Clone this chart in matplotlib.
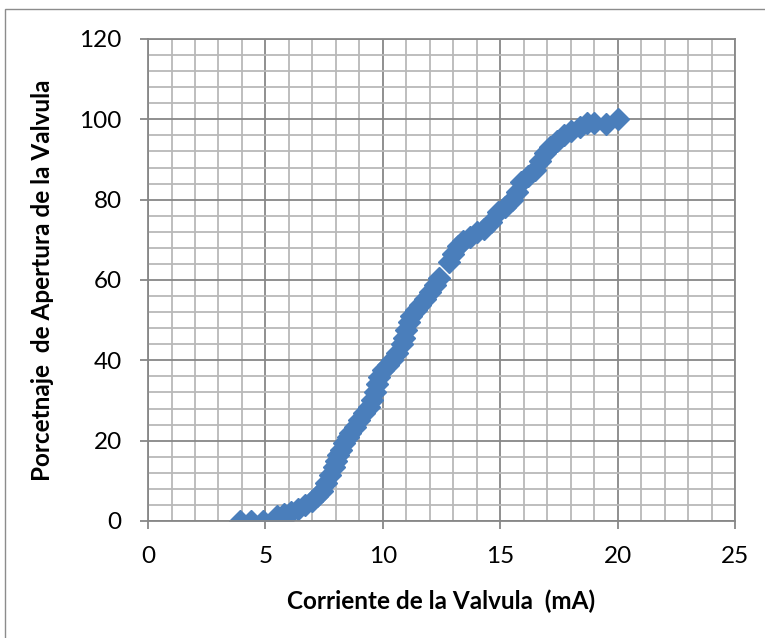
import numpy as np
import matplotlib
matplotlib.use('Agg')
import matplotlib.pyplot as plt
from matplotlib.patches import Rectangle
from matplotlib.ticker import MultipleLocator

# valve current (mA) vs. valve opening (%)
corriente = [3.9, 4.4, 4.9, 5.5, 5.8, 6.1, 6.4, 6.7, 7.0, 7.2, 7.4, 7.6, 7.75, 7.9,
             8.0, 8.1, 8.2, 8.35, 8.5, 8.6, 8.8, 9.0, 9.2, 9.4, 9.55, 9.65, 9.75,
             9.85, 10.0, 10.2, 10.4, 10.6, 10.8, 10.9, 11.0, 11.1, 11.2, 11.4, 11.6,
             11.8, 12.0, 12.2, 12.4, 12.8, 13.0, 13.2, 13.4, 13.7, 14.0, 14.3, 14.6,
             14.9, 15.2, 15.5, 15.7, 15.9, 16.2, 16.5, 16.7, 16.9, 17.1, 17.4, 17.7,
             18.0, 18.4, 18.7, 19.0, 19.5, 20.0]
apertura = [0, 0, 0, 1.2, 1.8, 2.3, 3.0, 4.0, 5.0, 6.2, 7.5, 9.5, 11.5, 13.4,
            15.0, 16.5, 17.7, 19.3, 20.8, 22.0, 23.5, 25.2, 26.8, 28.5, 30.0, 32.0, 34.0,
            35.8, 37.5, 38.8, 40.2, 41.8, 44.0, 45.5, 47.5, 49.5, 51.0, 52.5, 53.8,
            55.2, 57.0, 58.8, 60.5, 64.5, 66.5, 68.5, 69.8, 70.8, 72.0, 72.8, 74.5,
            77.0, 78.2, 79.8, 82.0, 84.5, 86.0, 87.5, 89.5, 91.5, 93.0, 94.5, 96.0,
            97.0, 98.0, 99.0, 99.0, 98.8, 100.0]

plt.rcParams['font.family'] = ['Lato', 'DejaVu Sans']

fig = plt.figure(figsize=(7.65, 6.38), dpi=100)
ax = fig.add_axes([0.1935, 0.1834, 0.7674, 0.7555])

# chart area frame
fig.patches.append(Rectangle((5 / 765, -0.1), 1.2, 1 - 9 / 638 + 0.1,
                             transform=fig.transFigure, fill=False,
                             edgecolor='#8c8c8c', linewidth=1.0))

ax.plot(corriente, apertura, linestyle='none', marker='D', markersize=11,
        color='#4a7ebb', markeredgecolor='#4a7ebb')

ax.set_xlim(0, 25)
ax.set_ylim(0, 120)
ax.xaxis.set_major_locator(MultipleLocator(5))
ax.xaxis.set_minor_locator(MultipleLocator(1))
ax.yaxis.set_major_locator(MultipleLocator(20))
ax.yaxis.set_minor_locator(MultipleLocator(4))

ax.grid(which='minor', color='#b9b9b9', linewidth=1.3)
ax.grid(which='major', color='#878787', linewidth=1.3)
ax.set_axisbelow(True)

for s in ax.spines.values():
    s.set_color('#878787')
    s.set_linewidth(1.3)

ax.tick_params(which='major', direction='out', length=6, width=1.3,
               color='#878787', labelsize=17.5)
ax.tick_params(axis='y', pad=13)
ax.tick_params(axis='x', pad=12)
ax.tick_params(which='minor', length=0)

ax.set_xlabel('Corriente de la Valvula  (mA)', fontsize=17.5, fontweight='bold', labelpad=16)
ax.set_ylabel('Porcetnaje  de Apertura de la Valvula', fontsize=17.5, fontweight='bold', labelpad=18)

fig.savefig('out.png', dpi=100)
